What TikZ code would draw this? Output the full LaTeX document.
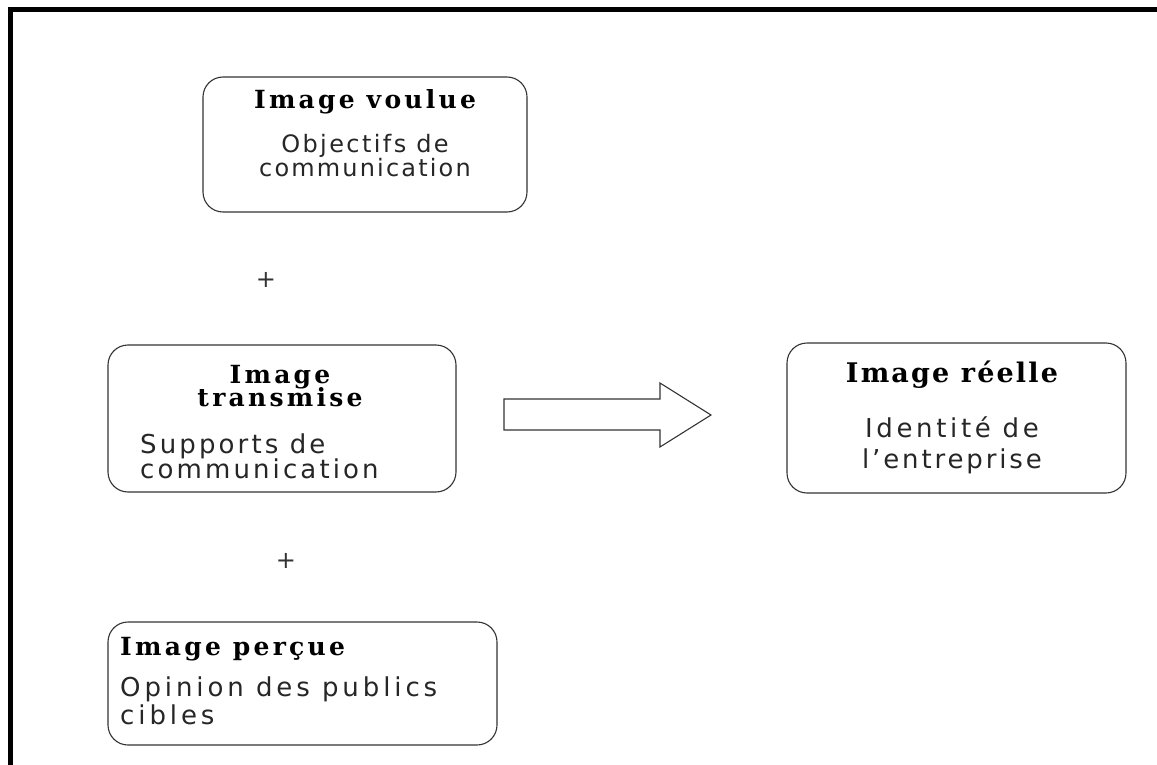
\documentclass[tikz,border=0pt]{standalone}
\usepackage{fontspec}
\setmainfont{DejaVu Sans}
\newfontfamily\bodyfont{DejaVu Sans}
\newfontfamily\titlefont{DejaVu Serif}
% #1 = size in pt, #2 = letter spacing (percent of the font size)
\newcommand\bodyat[2]{\bodyfont\addfontfeatures{LetterSpace=#2}\fontsize{#1}{#1}\selectfont}
\newcommand\titleat[2]{\titlefont\bfseries\addfontfeatures{LetterSpace=#2}\fontsize{#1}{#1}\selectfont}
\begin{document}
\begin{tikzpicture}[x=1pt,y=-1pt,
  box/.style={draw=black!80, line width=1.1pt, rounded corners=20pt, inner sep=0pt},
  ttl/.style={anchor=base, inner sep=0pt},
  txt/.style={anchor=base, inner sep=0pt, text=black!85},
  txtw/.style={anchor=base west, inner sep=0pt, text=black!85},
  ttlw/.style={anchor=base west, inner sep=0pt},
  plus/.style={inner sep=0pt, text=black!80, font=\bodyat{24}{0}},
]
\useasboundingbox (0,0) rectangle (1157,765);
% frame
\draw[line width=5pt] (10,770) -- (10,9.5) -- (1160,9.5);

% Image voulue
\node[box, minimum width=324pt, minimum height=135pt] (voulue) at (365,144.5) {};
\node[ttl, font=\titleat{25}{13}] (voulueT) at (365,109) {Image voulue};
\node[txt, font=\bodyat{24}{10}] (voulueA) at (365,153) {Objectifs de};
\node[txt, font=\bodyat{24}{9}] (voulueB) at (365,176) {communication};

\node[plus] (plusA) at (266,280) {+};

% Image transmise
\node[box, minimum width=348pt, minimum height=147pt] (transmise) at (282,418.5) {};
\node[ttl, font=\titleat{25}{13}] (transT1) at (280,383) {Image};
\node[ttl, font=\titleat{25}{13}] (transT2) at (280,406) {transmise};
\node[txtw, font=\bodyat{26}{12}] (transA) at (140,453) {Supports de};
\node[txtw, font=\bodyat{26}{12}] (transB) at (140,478) {communication};

\node[plus] (plusB) at (286,561) {+};

% Image percue
\node[box, minimum width=389pt, minimum height=123pt] (percue) at (302.5,683.5) {};
\node[ttlw, font=\titleat{25}{13}] (percT) at (120,655) {Image perçue};
\node[txtw, font=\bodyat{26}{15}] (percA) at (120,696) {Opinion des publics};
\node[txtw, font=\bodyat{26}{15}] (percB) at (120,724) {cibles};

% Block arrow
\draw[draw=black!80, line width=1.1pt, line join=miter]
  (504,399) -- (660,399) -- (660,383) -- (711,415) -- (660,447) -- (660,430) -- (504,430) -- cycle;

% Image reelle
\node[box, minimum width=339pt, minimum height=150pt] (reelle) at (956.5,418) {};
\node[ttl, font=\titleat{27}{8}] (reelT) at (952,382) {Image réelle};
\node[txt, font=\bodyat{26}{14}] (reelA) at (952,437) {Identité de};
\node[txt, font=\bodyat{26}{11}] (reelB) at (952,468) {l’entreprise};
\end{tikzpicture}
\end{document}
